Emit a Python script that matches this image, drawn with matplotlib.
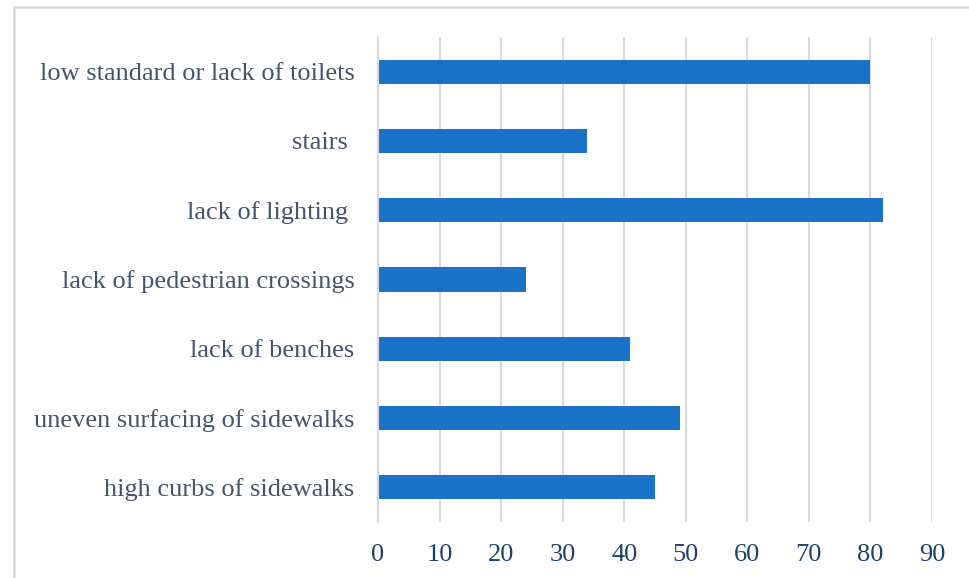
import matplotlib
matplotlib.use("Agg")
import matplotlib.pyplot as plt
from matplotlib.patches import Rectangle

categories = [
    "high curbs of sidewalks",
    "uneven surfacing of sidewalks",
    "lack of benches",
    "lack of pedestrian crossings",
    "lack of lighting ",
    "stairs ",
    "low standard or lack of toilets",
]
values = [45, 49, 41, 24, 82, 34, 80]
x_ticks = [0, 10, 20, 30, 40, 50, 60, 70, 80, 90]

plt.rcParams["font.family"] = ["Liberation Serif", "DejaVu Serif"]

fig = plt.figure(figsize=(9.70, 5.78), dpi=100)
ax = fig.add_axes([378 / 970, 1 - 522 / 578, (932 - 378) / 970, (522 - 37) / 578])

ax.barh(range(len(categories)), values, height=0.35, color="#1873C9", zorder=3)

ax.set_xlim(0, 90)
ax.set_ylim(-0.5, len(categories) - 0.5)
ax.set_xticks(x_ticks)
ax.set_yticks(range(len(categories)))
ax.set_yticklabels(categories)

ax.grid(axis="x", color="#D9D9D9", linewidth=1.5, zorder=0)
for side in ["top", "right", "bottom"]:
    ax.spines[side].set_visible(False)
ax.spines["left"].set_color("#D9D9D9")
ax.spines["left"].set_linewidth(1.5)
ax.spines["left"].set_zorder(4)

ax.tick_params(axis="both", length=0)
ax.tick_params(axis="y", labelsize=19, labelcolor="#44546A", pad=17)
ax.tick_params(axis="x", labelsize=19, labelcolor="#1F3F6E", pad=15.5)

# outer chart-area frame
fig.add_artist(Rectangle((14 / 970, -0.1), 1.2, 1.1 - 7 / 578,
                         transform=fig.transFigure, fill=False,
                         edgecolor="#D9D9D9", linewidth=1.8))

fig.savefig("out.png", dpi=100)
